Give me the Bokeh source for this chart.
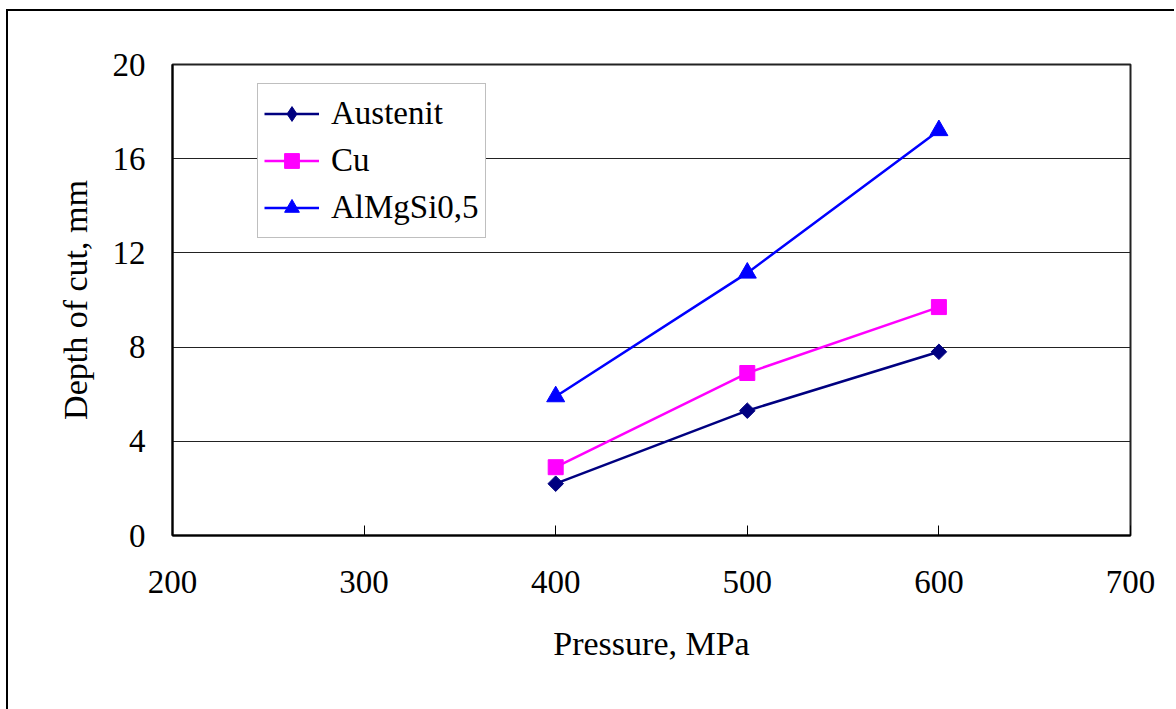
import math
from bokeh.plotting import figure
from bokeh.models import Legend, LegendItem, FixedTicker
from bokeh.embed import file_html
from bokeh.resources import INLINE

pressure = [400, 500, 600]
austenit = [2.2, 5.3, 7.8]
cu = [2.9, 6.9, 9.7]
almgsi = [5.9, 11.15, 17.2]
x_ticks = [200, 300, 400, 500, 600, 700]
y_ticks = [0, 4, 8, 12, 16, 20]

FONT = "Liberation Serif"
FONT_Q = "'Liberation Serif', serif"

p = figure(
    frame_width=958, frame_height=471,
    min_border_left=164, min_border_right=44, min_border_top=53, min_border_bottom=174,
    x_range=(200, 700), y_range=(0, 20),
    output_backend="svg", toolbar_location=None,
    background_fill_color="white", border_fill_color="white",
)
p.styles = {"border-left": "2px solid #000", "border-top": "2px solid #000",
            "margin-left": "6px", "margin-top": "9px"}

p.outline_line_color = "#222222"
p.outline_line_width = 2

p.xgrid.grid_line_color = None
p.ygrid.grid_line_color = "#222222"
p.ygrid.grid_line_width = 1
p.ygrid.ticker = FixedTicker(ticks=y_ticks)

for ax in (p.xaxis[0], p.yaxis[0]):
    ax.axis_line_color = "black"
    ax.axis_line_width = 2
    ax.major_label_text_font = FONT_Q
    ax.major_label_text_font_size = "33px"
    ax.major_label_text_color = "black"
    ax.axis_label_text_font = FONT
    ax.axis_label_text_font_size = "34px"
    ax.axis_label_text_font_style = "normal"
    ax.axis_label_text_color = "black"
    ax.minor_tick_line_color = None
    ax.major_tick_line_color = "black"
    ax.major_tick_line_width = 1

p.xaxis.ticker = FixedTicker(ticks=x_ticks)
p.yaxis.ticker = FixedTicker(ticks=y_ticks)
p.xaxis.major_tick_in = 10
p.xaxis.major_tick_out = 0
p.yaxis.major_tick_in = 0
p.yaxis.major_tick_out = 0
p.xaxis.major_label_standoff = 35
p.yaxis.major_label_standoff = 27
p.xaxis.axis_label = "Pressure, MPa"
p.yaxis.axis_label = "Depth of cut, mm"
p.xaxis.axis_label_standoff = 29
p.yaxis.axis_label_standoff = 16

NAVY, MAGENTA, BLUE = "#000080", "#FF00FF", "#0000FF"

l1 = p.line(pressure, austenit, line_color=NAVY, line_width=2.5)
# diamond shape used for the legend (legend glyphs ignore marker angle); tiny in the plot
m1_leg = p.scatter(pressure, austenit, marker="diamond", size=1,
                   fill_color=NAVY, line_color=NAVY)
m1 = p.scatter(pressure, austenit, marker="square", angle=math.pi / 4, size=11,
               fill_color=NAVY, line_color=NAVY)
l2 = p.line(pressure, cu, line_color=MAGENTA, line_width=2.5)
m2 = p.scatter(pressure, cu, marker="square", size=15, fill_color=MAGENTA, line_color=MAGENTA)
l3 = p.line(pressure, almgsi, line_color=BLUE, line_width=2.5)
m3 = p.scatter(pressure, almgsi, marker="triangle", size=18, fill_color=BLUE, line_color=BLUE)

legend = Legend(
    items=[
        LegendItem(label="Austenit", renderers=[l1, m1_leg]),
        LegendItem(label="Cu", renderers=[l2, m2]),
        LegendItem(label="AlMgSi0,5", renderers=[l3, m3]),
    ],
    location=(85, 297),
    label_text_font=FONT_Q,
    label_text_font_size="33px",
    label_text_color="black",
    label_height=47,
    glyph_height=37,
    glyph_width=55,
    label_standoff=12,
    padding=6,
    spacing=0,
    margin=0,
    border_line_color="#808080",
    border_line_width=1,
    background_fill_color="white",
    background_fill_alpha=1,
)
p.add_layout(legend, "center")

open("out.html", "w").write(file_html(p, INLINE))
